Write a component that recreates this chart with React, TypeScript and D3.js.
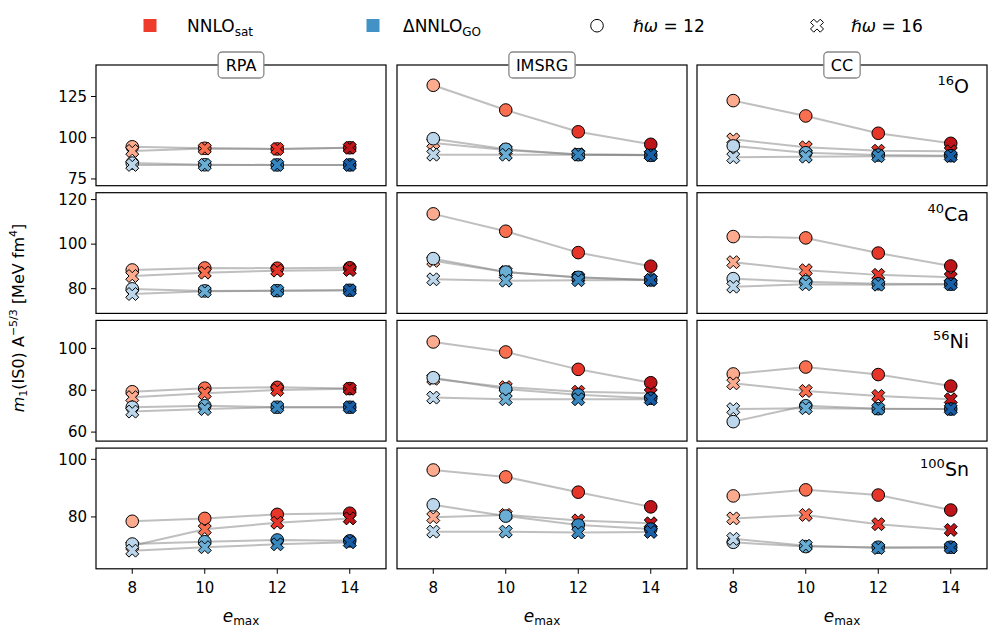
import * as d3 from 'd3';

const emax = [8, 10, 12, 14];
const methods = ['RPA', 'IMSRG', 'CC'];
const nuclei = [['16', 'O'], ['40', 'Ca'], ['56', 'Ni'], ['100', 'Sn']];
const yTicks = [[75, 100, 125], [80, 100, 120], [60, 80, 100], [80, 100]];

// every panel: [NNLOsat hw=12, NNLOsat hw=16, dNNLOgo hw=12, dNNLOgo hw=16], values at emax 8..14
const o16RPA = [[94.5, 93.6, 93.2, 93.9], [92.0, 93.4, 93.2, 93.9], [84.6, 83.6, 83.5, 83.5], [83.5, 83.5, 83.5, 83.5]];
const o16IMSRG = [[131.8, 116.8, 103.6, 96.0], [96.8, 92.5, 90.0, 89.5], [99.4, 93.0, 89.7, 89.3], [89.7, 89.7, 89.7, 89.5]];
const o16CC = [[122.5, 113.2, 102.7, 96.6], [99.0, 94.2, 92.1, 91.8], [95.0, 90.9, 89.5, 89.1], [88.1, 88.5, 88.8, 88.8]];

const ca40RPA = [[88.4, 89.3, 89.2, 89.4], [85.7, 87.2, 88.1, 88.4], [79.9, 79.0, 79.1, 79.3], [77.6, 78.8, 79.1, 79.3]];
const ca40IMSRG = [[113.6, 105.8, 96.2, 90.1], [92.5, 87.5, 85.0, 83.9], [93.5, 87.5, 85.1, 83.9], [84.2, 83.6, 83.8, 83.9]];
const ca40CC = [[103.4, 102.8, 96.0, 90.2], [91.9, 88.3, 86.2, 85.1], [84.5, 83.1, 82.2, 82.0], [80.9, 82.0, 81.8, 82.0]];

const ni56RPA = [[79.3, 81.0, 81.4, 80.8], [76.7, 78.6, 80.1, 80.7], [71.9, 72.6, 71.9, 71.9], [69.8, 71.0, 71.9, 71.9]];
const ni56IMSRG = [[103.1, 98.3, 90.0, 83.6], [85.5, 81.5, 79.3, 78.6], [86.0, 80.6, 77.8, 76.2], [76.5, 75.7, 75.7, 75.7]];
const ni56CC = [[87.8, 91.1, 87.5, 82.0], [83.3, 79.7, 77.3, 75.7], [65.0, 72.6, 71.2, 71.0], [71.0, 71.4, 71.2, 71.0]];

const sn100RPA = [[78.5, 79.5, 80.9, 81.3], [70.0, 75.7, 78.0, 79.5], [70.6, 71.4, 72.0, 71.7], [68.3, 69.5, 70.5, 71.2]];
const sn100IMSRG = [[96.3, 93.9, 88.6, 83.5], [79.9, 80.7, 78.8, 77.8], [84.2, 80.3, 77.2, 75.8], [74.9, 74.9, 74.6, 74.8]];
const sn100CC = [[87.3, 89.4, 87.6, 82.4], [79.5, 80.7, 77.5, 75.5], [71.2, 69.7, 69.5, 69.5], [72.4, 70.0, 69.2, 69.4]];

const panels = [
  [o16RPA, o16IMSRG, o16CC],
  [ca40RPA, ca40IMSRG, ca40CC],
  [ni56RPA, ni56IMSRG, ni56CC],
  [sn100RPA, sn100IMSRG, sn100CC],
];

// layout
const W = 996;
const H = 636;
const colX = [96, 397, 697];
const colW = 290;
const rowTop0 = 65;
const rowStep = 127.7;
const rowH = 120.7;
const yDomains = [[70.9, 144.1], [68.9, 123.1], [55.7, 113.4], [62.0, 103.9]];
const font = 'DejaVu Sans, sans-serif';

const reds = ['#fcab8e', '#f96f4f', '#e7352a', '#bd151a'];
const blues = ['#bcd7eb', '#6aaed6', '#3787c0', '#175ea6'];

const xPts = [[0.25, 0], [0.5, 0.25], [0.75, 0], [1, 0.25], [0.75, 0.5], [1, 0.75], [0.75, 1], [0.5, 0.75], [0.25, 1], [0, 0.75], [0.25, 0.5], [0, 0.25]];
const xPath = (s) => 'M' + xPts.map(([a, b]) => `${(a - 0.5) * s},${(b - 0.5) * s}`).join('L') + 'Z';

const charW = { R: 0.695, P: 0.603, A: 0.684, I: 0.295, M: 0.863, S: 0.635, G: 0.775, C: 0.698 };
const textW = (t, fs) => t.split('').reduce((s, c) => s + (charW[c] || 0.6), 0) * fs;

const Marker = ({ kind, x, y, fill }) =>
  kind === 'o'
    ? <circle cx={x} cy={y} r={6.3} fill={fill} stroke="#000" strokeWidth={1} />
    : <path d={xPath(13)} transform={`translate(${x},${y})`} fill={fill} stroke="#000" strokeWidth={1} strokeLinejoin="miter" />;

const App = () => {
  const x = d3.scaleLinear().domain([7, 15]);
  const kinds = ['o', 'x', 'o', 'x'];

  return (
    <svg width={W} height={H} style={{ position: 'absolute', left: 0, top: 0, fontFamily: font }}>
      <rect width={W} height={H} fill="#fff" />

      {/* legend */}
      <g fontSize={17}>
        <rect x={143.5} y={19} width={13} height={13} fill="#ef3b2c" />
        <text x={187} y={32}>NNLO<tspan fontSize={12} dy={4}>sat</tspan></text>
        <rect x={366.5} y={19} width={13} height={13} fill="#4292c6" />
        <text x={403} y={32}>ΔNNLO<tspan fontSize={12} dy={4}>GO</tspan></text>
        <Marker kind="o" x={597} y={25.7} fill="#fff" />
        <text x={633} y={32}><tspan fontStyle="italic">ℏω</tspan> = 12</text>
        <Marker kind="x" x={817} y={25.7} fill="#fff" />
        <text x={851} y={32}><tspan fontStyle="italic">ℏω</tspan> = 16</text>
      </g>

      {panels.map((row, r) => {
        const top = rowTop0 + r * rowStep;
        const y = d3.scaleLinear().domain(yDomains[r]).range([top + rowH, top]);
        return (
          <g key={r}>
            {row.map((series, c) => {
              const left = colX[c];
              x.range([left, left + colW]);
              const line = d3.line().x((d, i) => x(emax[i])).y((d) => y(d));
              return (
                <g key={c}>
                  <rect x={left} y={top} width={colW} height={rowH} fill="#fff" />
                  {series.map((s, k) => (
                    <path key={k} d={line(s)} fill="none" stroke="#808080" strokeOpacity={0.5} strokeWidth={2} />
                  ))}
                  {series.map((s, k) => (
                    <g key={k}>
                      {s.map((v, i) => (
                        <Marker key={i} kind={kinds[k]} x={x(emax[i])} y={y(v)} fill={k < 2 ? reds[i] : blues[i]} />
                      ))}
                    </g>
                  ))}
                  <rect x={left} y={top} width={colW} height={rowH} fill="none" stroke="#000" strokeWidth={1.2} />
                  {r === 3 && emax.map((e) => (
                    <g key={e} transform={`translate(${x(e)},${top + rowH})`}>
                      <line y2={5} stroke="#000" strokeWidth={1} />
                      <text y={24} textAnchor="middle" fontSize={15}>{e}</text>
                    </g>
                  ))}
                  {r === 3 && (
                    <text x={left + colW / 2} y={622} textAnchor="middle" fontSize={17}>
                      <tspan fontStyle="italic">e</tspan><tspan fontSize={12} dy={3}>max</tspan>
                    </text>
                  )}
                  {r === 0 && (
                    <g>
                      <rect x={left + colW / 2 - textW(methods[c], 16) / 2 - 7} y={top - 13} width={textW(methods[c], 16) + 14} height={26} rx={4} fill="#fff" stroke="#888" strokeWidth={1.3} />
                      <text x={left + colW / 2} y={top + 6} textAnchor="middle" fontSize={16}>{methods[c]}</text>
                    </g>
                  )}
                  {c === 2 && (
                    <text x={left + colW - 18} y={top + 28} textAnchor="end" fontSize={19}>
                      <tspan fontSize={13} dy={-8}>{nuclei[r][0]}</tspan><tspan dy={8}>{nuclei[r][1]}</tspan>
                    </text>
                  )}
                </g>
              );
            })}
            {yTicks[r].map((t) => (
              <g key={t} transform={`translate(${colX[0]},${y(t)})`}>
                <line x2={-5} stroke="#000" strokeWidth={1} />
                <text x={-9} dy="0.35em" textAnchor="end" fontSize={15}>{t}</text>
              </g>
            ))}
          </g>
        );
      })}

      <text transform="translate(24,318) rotate(-90)" textAnchor="middle" fontSize={16}>
        <tspan fontStyle="italic">m</tspan><tspan fontSize={11} dy={3}>1</tspan>
        <tspan dy={-3}>(IS0) A</tspan><tspan fontSize={11} dy={-7}>−5/3</tspan>
        <tspan dy={7}> [MeV fm</tspan><tspan fontSize={11} dy={-7}>4</tspan><tspan dy={7}>]</tspan>
      </text>
    </svg>
  );
};

export default App;
